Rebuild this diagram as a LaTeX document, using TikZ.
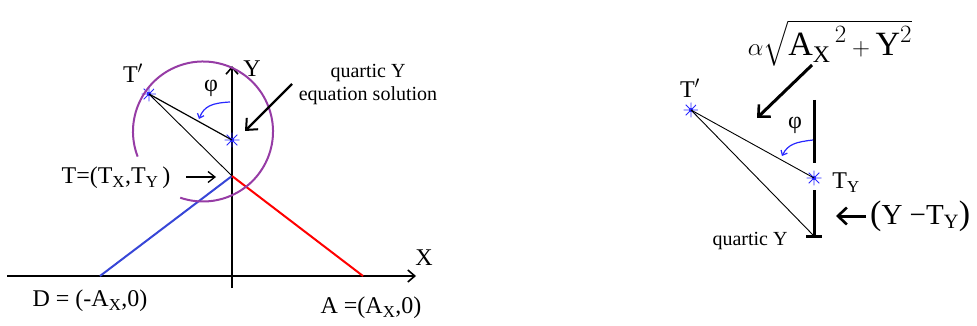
\documentclass[tikz,border=0pt]{standalone}
\usepackage{amsmath}
\usepackage{fontspec}
\setmainfont{Liberation Serif}
\usetikzlibrary{calc,positioning,arrows.meta}

\definecolor{dblue}{RGB}{55,70,215}
\definecolor{sblue}{RGB}{40,40,255}
\definecolor{dpurple}{RGB}{150,60,165}

\begin{document}
\begin{tikzpicture}[
    x=1pt, y=-1pt,
    axis/.style={line width=2pt, -{Straight Barb[length=7pt, width=12pt, line width=1.6pt]}},
    leg/.style={line width=2pt},
    spoke/.style={line width=0.9pt},
    starmark/.style={circle, inner sep=0pt, minimum size=15pt, path picture={
        \draw[sblue, line width=0.9pt]
            (path picture bounding box.north) -- (path picture bounding box.south)
            (path picture bounding box.east) -- (path picture bounding box.west)
            (path picture bounding box.north east) ++(-2.2pt,-2.2pt) -- ($(path picture bounding box.south west)+(2.2pt,2.2pt)$)
            (path picture bounding box.north west) ++(2.2pt,-2.2pt) -- ($(path picture bounding box.south east)+(-2.2pt,2.2pt)$);
        \fill[sblue] (path picture bounding box.center) circle (2pt);}},
    pointer/.style={line width=2.2pt, -{Straight Barb[length=9pt, width=16pt, line width=2pt]}},
    bigpointer/.style={line width=3pt, -{Straight Barb[length=9pt, width=17pt, line width=2.6pt]}},
    thinpointer/.style={line width=1.4pt, -{Straight Barb[length=7pt, width=11pt, line width=1.3pt]}},
    anglearrow/.style={sblue, line width=1.2pt, -{Straight Barb[length=4pt, width=7pt]}},
    lbl/.style={inner sep=0pt, font=\fontsize{24}{27}\selectfont},
    smalllbl/.style={inner sep=0pt, font=\fontsize{20}{23}\selectfont, align=center},
    biglbl/.style={inner sep=0pt, font=\fontsize{29}{33}\selectfont},
]
\useasboundingbox (0,0) rectangle (977,326);

% === LEFT: AXES ===
\coordinate (xstart) at (7,276);
\coordinate (xend) at (416,276);
\coordinate (ystart) at (232,288);
\coordinate (yend) at (232,66);
\draw[axis] (xstart) -- (xend);
\draw[axis] (ystart) -- (yend);
\node[lbl] (xlabel) at (424,258) {X};
\node[lbl] (ylabel) at (252,69) {Y};

% points of the linkage
\coordinate (D) at (100,276);
\coordinate (A) at (363,276);
\coordinate (T) at (232,176);
\node[starmark] (tprime) at (149,94) {};
\node[starmark] (ysol) at (232,140) {};

\draw[leg, dblue] (D) -- (T);
\draw[leg, red] (T) -- (A);
\draw[spoke, line width=1.2pt] (tprime.center) -- (ysol.center);
\draw[spoke] (tprime.center) -- (T);

% circle round T
\draw[dpurple, line width=2pt] (203,131.5) ++(159:70) arc[start angle=159, end angle=469, radius=70];

% angle phi
\node[lbl] (phi) at (211,88) {φ};
\coordinate (phistart) at (230,102);
\coordinate (phiend) at (199,119);
\draw[anglearrow] (phistart) .. controls (212,103) and (204,106) .. (phiend);

% labels and pointers
\node[lbl] (tprimelabel) at (133,73) {T$'$};
\node[smalllbl] (solnote) at (368,84.5) {quartic Y\\equation solution};
\coordinate (solfrom) at (292,84);
\coordinate (solto) at (245,131);
\draw[pointer] (solfrom) -- (solto);

\node[lbl] (tlabel) at (116,178) {T=(T\textsubscript{X},T\textsubscript{Y}\,)};
\coordinate (tfrom) at (186,177);
\coordinate (tto) at (216,177);
\draw[thinpointer] (tfrom) -- (tto);

\node[lbl] (dlabel) at (90,301) {D = (-A\textsubscript{X},0)};
\node[lbl] (alabel) at (371,308) {A =(A\textsubscript{X},0)};

% === RIGHT: DETAIL ===
\node[inner sep=0pt, font=\fontsize{34}{38}\selectfont] (formula) at (830,43)
    {$\alpha\sqrt{{\text{A}_{\text{X}}}^{\,2}+\text{Y}^{2}}$};
\coordinate (ffrom) at (812,65);
\coordinate (fto) at (757,118);
\draw[bigpointer] (ffrom) -- (fto);

\node[lbl] (tprimerlabel) at (690,88) {T$'$};
\node[starmark] (tprimer) at (691,110) {};
\node[starmark] (tyr) at (814,178) {};
\node[lbl] (tylabel) at (846,183) {T\textsubscript{Y}};

\coordinate (vtop) at (814,100);
\coordinate (vgap) at (814,163);
\coordinate (vresume) at (814,190);
\coordinate (vbottom) at (814,236);
\draw[line width=3pt] (vtop) -- (vgap);
\draw[line width=3pt] (vresume) -- (vbottom);
\draw[line width=3pt] ($(vbottom)+(-8,0)$) -- ($(vbottom)+(8,0)$);

\draw[spoke] (tprimer.center) -- (tyr.center);
\draw[spoke] (tprimer.center) -- (vbottom);

\node[lbl] (phir) at (795,125) {φ};
\coordinate (phirstart) at (813,140);
\coordinate (phirend) at (782,156);
\draw[anglearrow] (phirstart) .. controls (796,142) and (788,144) .. (phirend);

\coordinate (difffrom) at (866,216);
\coordinate (diffto) at (836,216);
\draw[bigpointer] (difffrom) -- (diffto);
\node[biglbl, anchor=west] (difflabel) at (870,216) {{\fontsize{34}{36}\selectfont(}Y −T\textsubscript{Y}{\fontsize{34}{36}\selectfont)}};

\node[smalllbl] (quarticlabel) at (750,241) {quartic Y};

\end{tikzpicture}
\end{document}
